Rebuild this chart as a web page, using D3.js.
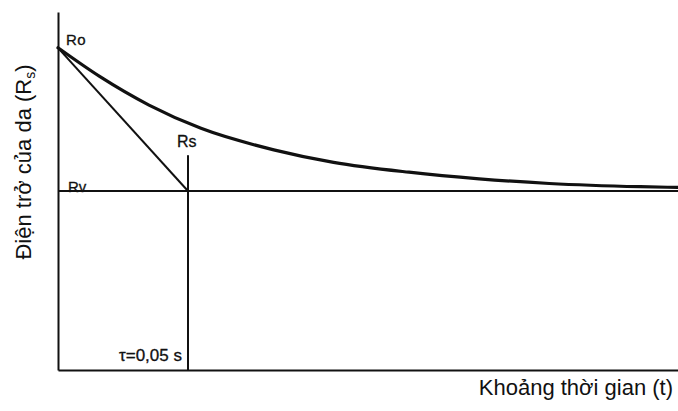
<!DOCTYPE html>
<html>
<head>
<meta charset="utf-8">
<script src="https://cdn.jsdelivr.net/npm/d3@7"></script>
<style>
  html, body { margin: 0; padding: 0; background: #fff; }
  svg { display: block; font-family: "Liberation Sans", Arial, Helvetica, sans-serif; }
</style>
</head>
<body>
<svg id="chart" width="678" height="411"></svg>
<script>
// Skin resistance decay after stimulus (arbitrary resistance units, time in seconds)
const timeS = [0, 0.016, 0.035, 0.055, 0.083, 0.106, 0.135, 0.162, 0.189, 0.224, 0.2385];
const resistance = [180, 164, 148, 135, 123, 116, 110.5, 106.8, 104.2, 102.4, 102];

const R0 = 180;        // initial resistance
const Rv = 100;        // asymptotic resistance
const tau = 0.05;      // time constant, s
const RsMarkTop = 120; // top of the marker at t = tau

const xTitle = "Khoảng thời gian (t)";
const tauLabel = "τ=0,05 s";

const svg = d3.select("#chart");
const ink = "#111";

const x = d3.scaleLinear().domain([0, 0.2385]).range([58, 678]);
const y = d3.scaleLinear().domain([0, 200]).range([370, 12]);

// Axes: bare lines without ticks
svg.append("g")
  .attr("transform", `translate(0,${y(0)})`)
  .call(d3.axisBottom(x).tickValues([]).tickSizeOuter(0))
  .call(g => g.select(".domain").attr("stroke", ink).attr("stroke-width", 2));

svg.append("g")
  .attr("transform", `translate(${x(0)},0)`)
  .call(d3.axisLeft(y).tickValues([]).tickSizeOuter(0))
  .call(g => g.select(".domain").attr("stroke", ink).attr("stroke-width", 2));

// Asymptote Rv
svg.append("line")
  .attr("x1", x(0)).attr("x2", x(0.2385))
  .attr("y1", y(Rv)).attr("y2", y(Rv))
  .attr("stroke", ink).attr("stroke-width", 2);

// Vertical marker at t = tau
svg.append("line")
  .attr("x1", x(tau)).attr("x2", x(tau))
  .attr("y1", y(0)).attr("y2", y(RsMarkTop))
  .attr("stroke", ink).attr("stroke-width", 2);

// Initial tangent from R0 down to Rv at t = tau
svg.append("line")
  .attr("x1", x(0)).attr("y1", y(R0))
  .attr("x2", x(tau)).attr("y2", y(Rv))
  .attr("stroke", ink).attr("stroke-width", 2);

// Decay curve
const line = d3.line()
  .x((d, i) => x(timeS[i]))
  .y(d => y(d))
  .curve(d3.curveMonotoneX);

svg.append("path")
  .datum(resistance)
  .attr("d", line)
  .attr("fill", "none")
  .attr("stroke", ink)
  .attr("stroke-width", 3.2)
  .attr("stroke-linecap", "round");

// Point labels
const lab = (tx, ty, text, size) => svg.append("text")
  .attr("x", tx).attr("y", ty)
  .attr("font-size", size)
  .attr("fill", ink)
  .attr("stroke", ink)
  .attr("stroke-width", 0.3)
  .text(text);

lab(x(0) + 8, y(R0) - 3, "Ro", 15).attr("letter-spacing", "0.5");
lab(x(tau) - 11, y(RsMarkTop) - 8, "Rs", 16);
lab(x(0) + 10, y(Rv) + 1, "Rv", 15);
lab(x(tau) - 6, y(0) - 9, tauLabel, 17).attr("text-anchor", "end");

// Axis titles
svg.append("text")
  .attr("x", 673).attr("y", 395)
  .attr("text-anchor", "end")
  .attr("font-size", 22)
  .attr("fill", ink)
  .text(xTitle);

const yt = svg.append("text")
  .attr("transform", "translate(31,162) rotate(-90)")
  .attr("text-anchor", "middle")
  .attr("font-size", 22)
  .attr("fill", ink);
yt.append("tspan").text("Điện trở của da (R");
yt.append("tspan").attr("font-size", 14).attr("dy", 4).text("s");
yt.append("tspan").attr("dy", -4).text(")");
</script>
</body>
</html>
